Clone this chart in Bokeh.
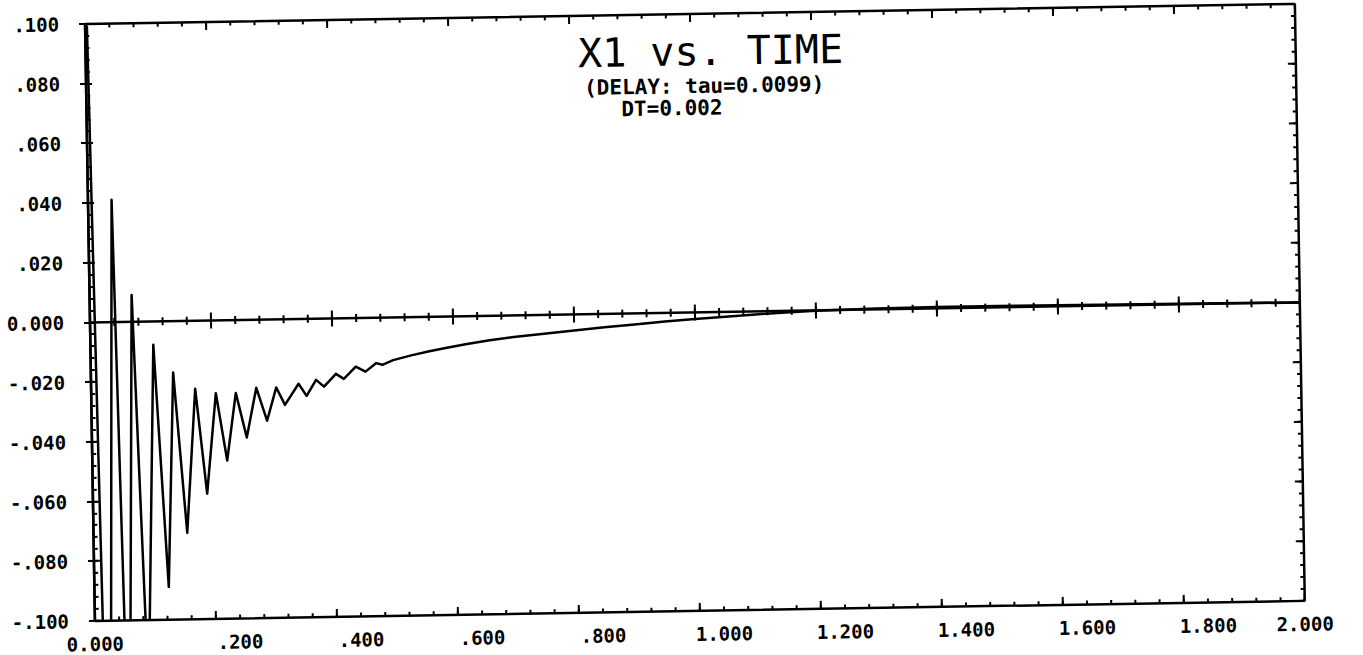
import numpy as np
from bokeh.plotting import figure
from bokeh.models import LinearAxis, FixedTicker, Label, Range1d, Span
from bokeh.embed import file_html
from bokeh.resources import INLINE

# X1 response: turning points of the delayed oscillation, then the settling tail
time_s = [0.000, 0.003, 0.018, 0.039, 0.053, 0.0695, 0.087, 0.104, 0.123, 0.136,
          0.155, 0.172, 0.189, 0.206, 0.223, 0.239, 0.256, 0.273, 0.290, 0.306,
          0.320, 0.343, 0.356, 0.372, 0.385, 0.405, 0.418, 0.438, 0.454, 0.472,
          0.482, 0.500, 0.530, 0.560, 0.585, 0.620, 0.660, 0.700, 0.750, 0.800,
          0.850, 0.900, 0.950, 1.000, 1.050, 1.100, 1.150, 1.200, 1.300, 1.400,
          1.500, 1.600, 1.700, 1.800, 1.900, 2.000]
x1 = [0.1000, 0.0990, -0.2000, 0.0410, -0.1600, 0.0090, -0.1250, -0.0078, -0.0890, -0.0172,
      -0.0710, -0.0228, -0.0580, -0.0244, -0.0470, -0.0244, -0.0394, -0.0228, -0.0339, -0.0228,
      -0.0287, -0.0217, -0.0258, -0.0205, -0.0228, -0.0186, -0.0203, -0.0163, -0.0180, -0.0152,
      -0.0158, -0.0143, -0.0128, -0.0115, -0.0106, -0.0094, -0.0082, -0.0072, -0.0063, -0.0054,
      -0.0045, -0.0037, -0.0029, -0.0022, -0.0016, -0.0010, -0.0005, -0.0001, 0.0003, 0.0005,
      0.0005, 0.0004, 0.0003, 0.0002, 0.0001, 0.0000]

x_ticks = [0.0, 0.2, 0.4, 0.6, 0.8, 1.0, 1.2, 1.4, 1.6, 1.8, 2.0]
x_tick_labels = ["0.000", ".200", ".400", ".600", ".800", "1.000",
                 "1.200", "1.400", "1.600", "1.800", "2.000"]
y_ticks = [-0.1, -0.08, -0.06, -0.04, -0.02, 0.0, 0.02, 0.04, 0.06, 0.08, 0.1]
y_tick_labels = ["-.100", "-.080", "-.060", "-.040", "-.020", "0.000",
                 ".020", ".040", ".060", ".080", ".100"]

title_text = "X1 vs. TIME"
note_lines = ["(DELAY: tau=0.0099)", "DT=0.002"]

PLOT_FONT = "DejaVu Sans Mono"
LABEL_SIZE = "19px"
X0, X1_END, Y0, Y1_END = 0.0, 2.0, -0.1, 0.1
FRAME_W, FRAME_H = 1210, 597
# the plotter writes time labels a little to the right of their ticks
LABEL_SHIFT = 0.04

x_minor = [round(v, 3) for v in np.arange(X0, X1_END + 1e-9, 0.04)]
y_minor = [round(v, 4) for v in np.arange(Y0, Y1_END + 1e-9, 0.004)]

p = figure(
    x_range=Range1d(X0, X1_END), y_range=Range1d(Y0, Y1_END),
    frame_width=FRAME_W, frame_height=FRAME_H,
    min_border_left=95, min_border_right=58,
    min_border_top=25, min_border_bottom=33,
    x_axis_location=None, y_axis_location=None,
    output_backend="svg", toolbar_location=None,
    background_fill_color="white", border_fill_color="white",
)
p.grid.grid_line_color = None
p.outline_line_color = "black"
p.outline_line_width = 2.5
label_lo, label_hi = X0 - LABEL_SHIFT, X1_END - LABEL_SHIFT
p.extra_x_ranges = {"labels": Range1d(label_lo, label_hi)}


def style_axis(ax, tick_in, tick_out, minor_in, minor_out):
    ax.axis_line_color = "black"
    ax.axis_line_width = 2.5
    ax.major_tick_line_color = "black"
    ax.major_tick_line_width = 2
    ax.minor_tick_line_color = "black"
    ax.minor_tick_line_width = 2
    ax.major_tick_in = tick_in
    ax.major_tick_out = tick_out
    ax.minor_tick_in = minor_in
    ax.minor_tick_out = minor_out
    ax.major_label_text_font = PLOT_FONT
    ax.major_label_text_font_style = "bold"
    ax.major_label_text_font_size = LABEL_SIZE
    ax.major_label_text_color = "black"


# value axis with labels
left = LinearAxis(ticker=FixedTicker(ticks=y_ticks, minor_ticks=y_minor),
                  major_label_overrides=dict(zip(y_ticks, y_tick_labels)))
style_axis(left, 6, 6, 4, 0)
left.major_label_standoff = 20
p.add_layout(left, "left")

# time labels, shifted right of their ticks; the two end labels sit on the corners
label_ticks = [label_lo] + x_ticks[1:-1] + [label_hi]
time_labels = LinearAxis(x_range_name="labels",
                         ticker=FixedTicker(ticks=label_ticks, minor_ticks=[]),
                         major_label_overrides=dict(zip(label_ticks, x_tick_labels)))
style_axis(time_labels, 0, 0, 0, 0)
time_labels.axis_line_color = None
time_labels.major_tick_line_color = None
time_labels.minor_tick_line_color = None
time_labels.major_label_standoff = 16
p.add_layout(time_labels, "below")

# pixel sizes of the tick marks, in data units
dx = (X1_END - X0) / FRAME_W
dy = (Y1_END - Y0) / FRAME_H


def tick_marks(xs0, ys0, xs1, ys1):
    p.segment(x0=xs0, y0=ys0, x1=xs1, y1=ys1, line_color="black", line_width=2)


# ticks hanging from the top edge
tick_marks(x_ticks, [Y1_END] * len(x_ticks), x_ticks, [Y1_END - 8 * dy] * len(x_ticks))
tick_marks(x_minor, [Y1_END] * len(x_minor), x_minor, [Y1_END - 4 * dy] * len(x_minor))
# ticks standing on the bottom edge
tick_marks(x_ticks, [Y0] * len(x_ticks), x_ticks, [Y0 + 8 * dy] * len(x_ticks))
tick_marks(x_minor, [Y0] * len(x_minor), x_minor, [Y0 + 4 * dy] * len(x_minor))
# ticks on the inside of the right edge
tick_marks([X1_END] * len(y_ticks), y_ticks, [X1_END - 8 * dx] * len(y_ticks), y_ticks)
tick_marks([X1_END] * len(y_minor), y_minor, [X1_END - 4 * dx] * len(y_minor), y_minor)

# zero line with crossing ticks
p.add_layout(Span(location=0, dimension="width", line_color="black", line_width=2.5))
tick_marks(x_ticks, [-8 * dy] * len(x_ticks), x_ticks, [8 * dy] * len(x_ticks))
tick_marks(x_minor, [-4 * dy] * len(x_minor), x_minor, [4 * dy] * len(x_minor))

p.line(time_s, x1, line_color="black", line_width=2.5, line_join="round")

p.add_layout(Label(x=1.033, y=0.0875, text=title_text, text_align="center",
                   text_baseline="middle", text_font=PLOT_FONT,
                   text_font_size="40px", text_color="black"))
p.add_layout(Label(x=0.823, y=0.0758, text=note_lines[0], text_align="left",
                   text_baseline="middle", text_font=PLOT_FONT, text_font_style="bold",
                   text_font_size="21px", text_color="black"))
p.add_layout(Label(x=0.884, y=0.0685, text=note_lines[1], text_align="left",
                   text_baseline="middle", text_font=PLOT_FONT, text_font_style="bold",
                   text_font_size="21px", text_color="black"))

# the plotted sheet sits slightly askew, pivoting on its lower left corner
p.styles = {"transform": "rotate(-0.95deg)", "transform-origin": "0 100%"}

open("out.html", "w").write(file_html(p, INLINE))
